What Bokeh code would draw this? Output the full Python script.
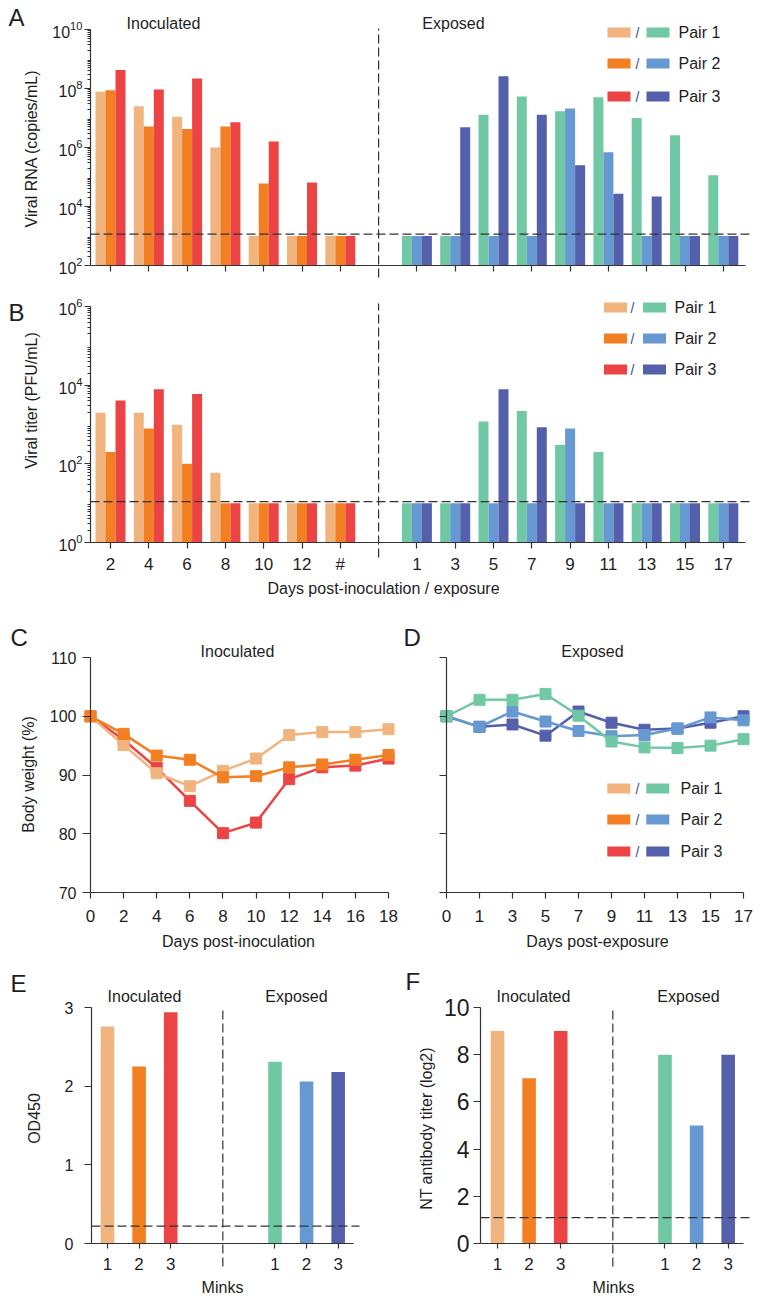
import math
import json
from bokeh.plotting import figure
from bokeh.layouts import column, row
from bokeh.models import Label, FixedTicker, LogTickFormatter, CustomJSTickFormatter
from bokeh.embed import file_html
from bokeh.resources import INLINE

# ---------------- data ----------------
inoc_days = ["2", "4", "6", "8", "10", "12", "#"]
exp_days = ["1", "3", "5", "7", "9", "11", "13", "15", "17"]

rna_inoc_pair1 = [7.8e7, 2.5e7, 1.1e7, 1.0e6, 1.0e3, 1.0e3, 1.0e3]
rna_inoc_pair2 = [8.7e7, 5.2e6, 4.2e6, 5.2e6, 6.0e4, 1.0e3, 1.0e3]
rna_inoc_pair3 = [4.2e8, 9.3e7, 2.2e8, 7.2e6, 1.6e6, 6.5e4, 1.0e3]
rna_exp_pair1 = [1.0e3, 1.0e3, 1.3e7, 5.4e7, 1.7e7, 5.1e7, 1.0e7, 2.6e6, 1.15e5]
rna_exp_pair2 = [1.0e3, 1.0e3, 1.0e3, 1.0e3, 2.1e7, 6.9e5, 1.0e3, 1.0e3, 1.0e3]
rna_exp_pair3 = [1.0e3, 4.9e6, 2.6e8, 1.3e7, 2.5e5, 2.7e4, 2.2e4, 1.0e3, 1.0e3]
rna_lod = 1.15e3

titer_inoc_pair1 = [2000, 2000, 980, 59, 10, 10, 10]
titer_inoc_pair2 = [200, 790, 100, 10, 10, 10, 10]
titer_inoc_pair3 = [4100, 7900, 6000, 10, 10, 10, 10]
titer_exp_pair1 = [10, 10, 1200, 2200, 300, 200, 10, 10, 10]
titer_exp_pair2 = [10, 10, 10, 10, 790, 10, 10, 10, 10]
titer_exp_pair3 = [10, 10, 7900, 850, 10, 10, 10, 10, 10]
titer_lod = 11

bw_inoc_days = [0, 2, 4, 6, 8, 10, 12, 14, 16, 18]
bw_inoc_pair1 = [100, 95.1, 90.3, 88.1, 90.7, 92.8, 96.8, 97.3, 97.3, 97.8]
bw_inoc_pair2 = [100, 97.0, 93.3, 92.6, 89.6, 89.8, 91.3, 91.8, 92.6, 93.4]
bw_inoc_pair3 = [100, 96.0, 91.2, 85.6, 80.1, 81.9, 89.3, 91.3, 91.6, 92.8]
bw_exp_days = ["0", "1", "3", "5", "7", "9", "11", "13", "15", "17"]
bw_exp_pair1 = [100, 102.8, 102.8, 103.8, 100.1, 95.7, 94.7, 94.6, 95.0, 96.1]
bw_exp_pair2 = [100, 98.2, 100.8, 99.1, 97.5, 96.6, 96.8, 97.9, 99.8, 99.3]
bw_exp_pair3 = [100, 98.2, 98.6, 96.7, 100.8, 98.9, 97.7, 97.9, 98.9, 100.0]
bw_ticks = [70, 80, 90, 100, 110]

minks = ["1", "2", "3"]
od_inoc = [2.76, 2.25, 2.94]
od_exp = [2.31, 2.06, 2.18]
od_cutoff = 0.22
od_ticks = [0, 1, 2, 3]
nt_inoc = [9, 7, 9]
nt_exp = [8, 5, 8]
nt_cutoff = 1.1
nt_ticks = [0, 2, 4, 6, 8, 10]

pair_labels = ["Pair 1", "Pair 2", "Pair 3"]

# ---------------- style ----------------
FONT = "Liberation Sans"
C_INOC = ["#F2B47E", "#F27F22", "#EC4444"]
C_EXP = ["#70C8A4", "#6699D2", "#5560AC"]
AX = "#333333"
TXT = "#1e1e1e"
DASH = "9 4"


class Map1:
    """Linear (or log) map from page pixels to data values, fixed by two reference points."""

    def __init__(self, pa, va, pb, vb, log=False):
        self.pa, self.pb, self.log = pa, pb, log
        self.va = math.log10(va) if log else va
        self.vb = math.log10(vb) if log else vb

    def __call__(self, px):
        v = self.va + (px - self.pa) / (self.pb - self.pa) * (self.vb - self.va)
        return 10 ** v if self.log else v


def make_fig(left, top, width, height, mx, my, ylog=False):
    p = figure(width=width, height=height,
               x_range=(mx(left), mx(left + width)), y_range=(my(top + height), my(top)),
               y_axis_type="log" if ylog else "linear",
               output_backend="svg", toolbar_location=None,
               min_border_left=0, min_border_right=0, min_border_top=0, min_border_bottom=0)
    p.title.visible = False
    p.outline_line_color = None
    p.xgrid.visible = False
    p.ygrid.visible = False
    p.background_fill_color = "white"
    p.border_fill_color = "white"
    for ax in p.axis:
        ax.axis_line_color = AX
        ax.axis_line_width = 1.2
        ax.major_tick_line_color = AX
        ax.minor_tick_line_color = AX
        ax.major_tick_line_width = 1.2
        ax.major_tick_in = 0
        ax.minor_tick_in = 0
        ax.major_tick_out = 6
        ax.minor_tick_out = 3
        ax.major_label_text_font = FONT
        ax.major_label_text_color = TXT
        ax.major_label_text_font_size = "17px"
    return p


def place_axes(p, mx, my, x_px, y_px, x_bounds_px, y_bounds_px):
    """Put the y axis at page x = x_px and the x axis at page y = y_px (inside the frame)."""
    p.yaxis.fixed_location = mx(x_px)
    p.xaxis.fixed_location = my(y_px)
    p.xaxis.bounds = (mx(x_bounds_px[0]), mx(x_bounds_px[1]))
    p.yaxis.bounds = (my(y_bounds_px[1]), my(y_bounds_px[0]))


def lab(p, mx, my, text, px, py, size="16px", align="center", angle=0.0, color=TXT):
    p.add_layout(Label(x=mx(px), y=my(py), text=text, text_font=FONT, text_font_size=size,
                       text_align=align, text_baseline="middle", angle=angle, text_color=color))


def dashed(p, xs, ys):
    p.line(x=xs, y=ys, line_dash=DASH, line_color=AX, line_width=1.2)


def legend(p, mx, my, rows_y, sw1, slash, sw2, tx):
    for ci, ce, name, y in zip(C_INOC, C_EXP, pair_labels, rows_y):
        p.rect(x=[mx(sw1)], y=[my(y)], width=23, height=10, width_units="screen",
               height_units="screen", fill_color=ci, line_color=None)
        p.rect(x=[mx(sw2)], y=[my(y)], width=23, height=10, width_units="screen",
               height_units="screen", fill_color=ce, line_color=None)
        lab(p, mx, my, "/", slash, y, size="14px", color="#3c4f86")
        lab(p, mx, my, name, tx, y, size="16px", align="left")


def log_minor(e0, e1):
    return [m * 10 ** e for e in range(e0, e1) for m in range(2, 10)]


# ---------------- A & B : bar charts on log axes ----------------
SP = 38.3
inoc_pos = [i + 1 for i in range(len(inoc_days))]
exp_pos = [len(inoc_days) + 2 + j for j in range(len(exp_days))]
divider_ab = len(inoc_days) + 1
BW = 10 / SP
offs = [-BW, 0.0, BW]
tick_pos = inoc_pos + exp_pos

mxAB = Map1(110, 1, 110 + SP, 2)
myA = Map1(265, 1e2, 29, 1e10, log=True)
myB = Map1(542, 1.0, 306, 1e6, log=True)
pA = make_fig(0, 0, 768, 285, mxAB, myA, ylog=True)
pB = make_fig(0, 285, 768, 315, mxAB, myB, ylog=True)

rna_inoc = [rna_inoc_pair1, rna_inoc_pair2, rna_inoc_pair3]
rna_exp = [rna_exp_pair1, rna_exp_pair2, rna_exp_pair3]
tit_inoc = [titer_inoc_pair1, titer_inoc_pair2, titer_inoc_pair3]
tit_exp = [titer_exp_pair1, titer_exp_pair2, titer_exp_pair3]

for p, my, vi, ve, lod, e0, e1, top_px, bot_px, div_px in (
        (pA, myA, rna_inoc, rna_exp, rna_lod, 2, 10, 29, 265, (28, 277)),
        (pB, myB, tit_inoc, tit_exp, titer_lod, 0, 6, 306, 542, (303, 557))):
    base = 10 ** e0
    for k in range(3):
        p.vbar(x=[x + offs[k] for x in inoc_pos], top=vi[k], bottom=base, width=BW,
               fill_color=C_INOC[k], line_color=None)
        p.vbar(x=[x + offs[k] for x in exp_pos], top=ve[k], bottom=base, width=BW,
               fill_color=C_EXP[k], line_color=None)
    dashed(p, [mxAB(90), mxAB(752)], [lod, lod])
    dashed(p, [divider_ab, divider_ab], [my(div_px[1]), my(div_px[0])])
    place_axes(p, mxAB, my, 90, bot_px, (90, 745), (top_px, bot_px))
    p.yaxis.ticker = FixedTicker(ticks=[10 ** e for e in range(e0, e1 + 1, 2)],
                                 minor_ticks=log_minor(e0, e1))
    p.yaxis.formatter = LogTickFormatter()
    p.yaxis.major_label_text_font_size = "16px"
    p.yaxis.major_label_standoff = 2
    p.xaxis.ticker = FixedTicker(ticks=tick_pos)
    p.xaxis.major_label_overrides = {pos: d for pos, d in zip(tick_pos, inoc_days + exp_days)}
    p.xaxis.major_tick_out = 6

pA.xaxis.major_label_text_color = None
pB.xaxis.major_label_standoff = 6

lab(pA, mxAB, myA, "A", 8, 17, size="24px", align="left")
lab(pA, mxAB, myA, "Inoculated", 163, 23)
lab(pA, mxAB, myA, "Exposed", 453, 23)
lab(pA, mxAB, myA, "Viral RNA (copies/mL)", 31, 148, angle=math.pi / 2)
legend(pA, mxAB, myA, [32, 63, 96], 618.5, 637, 657.5, 678)

lab(pB, mxAB, myB, "B", 8, 312, size="24px", align="left")
lab(pB, mxAB, myB, "Viral titer (PFU/mL)", 31, 400, angle=math.pi / 2)
lab(pB, mxAB, myB, "Days post-inoculation / exposure", 383, 588)
legend(pB, mxAB, myB, [307, 338, 369], 615, 632, 654, 674)

# ---------------- C : body weight, inoculated ----------------
mxC = Map1(90, 0, 388, 18)
myCD = Map1(892, 70, 657, 110)
pC = make_fig(0, 600, 400, 360, mxC, myCD)
for vals, c in ((bw_inoc_pair3, C_INOC[2]), (bw_inoc_pair1, C_INOC[0]), (bw_inoc_pair2, C_INOC[1])):
    pC.line(bw_inoc_days, vals, line_color=c, line_width=2.5)
    pC.scatter(bw_inoc_days, vals, marker="square", size=11, fill_color=c, line_color=c)
place_axes(pC, mxC, myCD, 90, 892, (90, 388), (657, 892))
pC.xaxis.ticker = FixedTicker(ticks=bw_inoc_days)
pC.xaxis.major_label_standoff = 11
pC.yaxis.ticker = FixedTicker(ticks=bw_ticks)
pC.yaxis.major_tick_out = 8
pC.yaxis.major_label_standoff = 6
pC.yaxis.major_label_text_font_size = "16px"
lab(pC, mxC, myCD, "C", 10, 637, size="24px", align="left")
lab(pC, mxC, myCD, "Inoculated", 237, 651)
lab(pC, mxC, myCD, "Body weight (%)", 28, 774, angle=math.pi / 2)
lab(pC, mxC, myCD, "Days post-inoculation", 238, 941)

# ---------------- D : body weight, exposed ----------------
d_pos = list(range(len(bw_exp_days)))
mxD = Map1(446, 0, 743, len(d_pos) - 1)
pD = make_fig(400, 600, 368, 360, mxD, myCD)
for vals, c in ((bw_exp_pair3, C_EXP[2]), (bw_exp_pair2, C_EXP[1]), (bw_exp_pair1, C_EXP[0])):
    pD.line(d_pos, vals, line_color=c, line_width=2.5)
    pD.scatter(d_pos, vals, marker="square", size=11, fill_color=c, line_color=c)
place_axes(pD, mxD, myCD, 446, 892, (446, 743), (657, 892))
pD.xaxis.ticker = FixedTicker(ticks=d_pos)
pD.xaxis.major_label_overrides = {i: d for i, d in zip(d_pos, bw_exp_days)}
pD.xaxis.major_label_standoff = 11
pD.yaxis.ticker = FixedTicker(ticks=bw_ticks)
pD.yaxis.major_tick_out = 7
pD.yaxis.major_label_text_color = None
lab(pD, mxD, myCD, "D", 403, 637, size="24px", align="left")
lab(pD, mxD, myCD, "Exposed", 592, 651)
lab(pD, mxD, myCD, "Days post-exposure", 597, 941)
legend(pD, mxD, myCD, [788, 819, 851], 618.3, 637, 657.3, 680)

# ---------------- E & F : serology bars ----------------
SE = 31.6
ef_inoc_pos = [1, 2, 3]
ef_exp_pos = [x + 5.3 for x in ef_inoc_pos]
divider_ef = 4.65
EBW = 0.43
ef_ticks = ef_inoc_pos + ef_exp_pos
ef_map = {str(int(round(x * 10))): m for x, m in zip(ef_ticks, minks + minks)}
ef_fmt_code = ("const m = %s; const k = String(Math.round(tick * 10)); "
               "return (k in m) ? m[k] : '';") % json.dumps(ef_map)

mxE = Map1(107, 1, 107 + SE, 2)
myE = Map1(1243, 0, 1007, 3)
pE = make_fig(0, 960, 392, 342, mxE, myE)
mxF = Map1(497, 1, 497 + SE, 2)
myF = Map1(1243, 0, 1007, 10)
pF = make_fig(392, 960, 376, 342, mxF, myF)

for p, mx, my, vi, ve, cut, ax_px, end_px, ticks in (
        (pE, mxE, myE, od_inoc, od_exp, od_cutoff, 91, 353, od_ticks),
        (pF, mxF, myF, nt_inoc, nt_exp, nt_cutoff, 480, 743, nt_ticks)):
    p.vbar(x=ef_inoc_pos, top=vi, bottom=0, width=EBW, fill_color=C_INOC, line_color=None)
    p.vbar(x=ef_exp_pos, top=ve, bottom=0, width=EBW, fill_color=C_EXP, line_color=None)
    dashed(p, [mx(ax_px), mx(end_px + 6)], [cut, cut])
    dashed(p, [divider_ef, divider_ef], [my(1266), my(1007)])
    place_axes(p, mx, my, ax_px, 1243, (ax_px, end_px), (1007, 1243))
    p.xaxis.ticker = FixedTicker(ticks=ef_ticks)
    p.xaxis.formatter = CustomJSTickFormatter(code=ef_fmt_code)
    p.xaxis.major_tick_out = 5
    p.xaxis.major_label_standoff = 9
    p.yaxis.major_tick_out = 7
    p.yaxis.ticker = FixedTicker(ticks=ticks)

pE.yaxis.major_label_standoff = 11
pE.yaxis.major_label_text_font_size = "16px"
pF.yaxis.major_label_text_font_size = "23px"
pF.yaxis.major_label_standoff = 4

lab(pE, mxE, myE, "E", 10, 983, size="24px", align="left")
lab(pE, mxE, myE, "Inoculated", 144, 996)
lab(pE, mxE, myE, "Exposed", 296, 996)
lab(pE, mxE, myE, "OD450", 34, 1118, angle=math.pi / 2)
lab(pE, mxE, myE, "Minks", 222, 1287)

lab(pF, mxF, myF, "F", 405, 981, size="24px", align="left")
lab(pF, mxF, myF, "Inoculated", 533, 996)
lab(pF, mxF, myF, "Exposed", 688, 996)
lab(pF, mxF, myF, "NT antibody titer (log2)", 426, 1128, angle=math.pi / 2)
lab(pF, mxF, myF, "Minks", 613, 1287)

layout = column(pA, pB, row(pC, pD), row(pE, pF))
open("out.html", "w").write(file_html(layout, INLINE))
